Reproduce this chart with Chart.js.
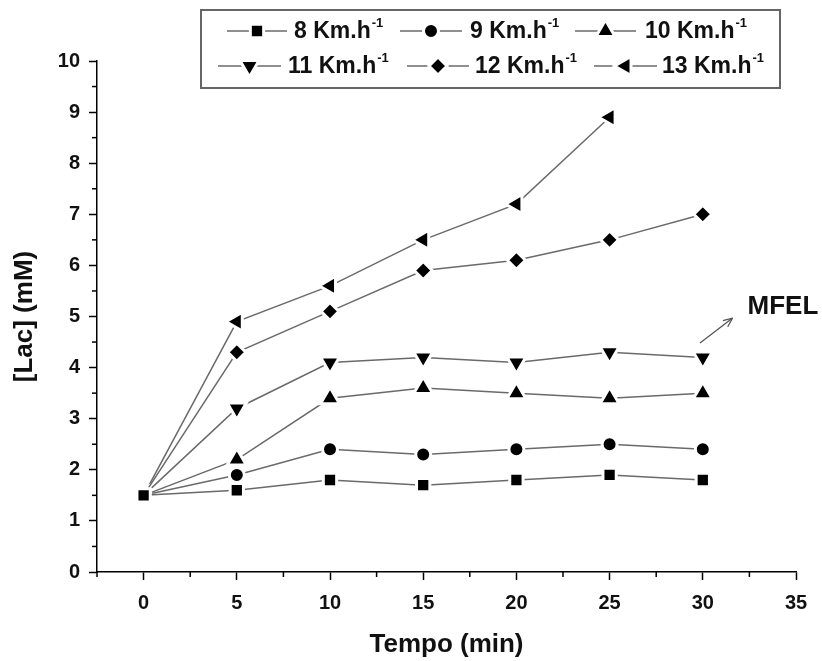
<!DOCTYPE html>
<html><head><meta charset="utf-8">
<script src="https://cdn.jsdelivr.net/npm/chart.js@4/dist/chart.umd.min.js"></script>
<style>html,body{margin:0;padding:0;background:#fff;}#wrap{width:822px;height:661px;position:relative;}</style>
</head><body><div id="wrap"><canvas id="c" width="822" height="661"></canvas></div>
<script>
// ---- data ----
const times = [0, 5, 10, 15, 20, 25, 30];
const speedLabels = ['8 Km.h', '9 Km.h', '10 Km.h', '11 Km.h', '12 Km.h', '13 Km.h'];
const lac8  = [1.5, 1.6, 1.8, 1.7, 1.8, 1.9, 1.8];
const lac9  = [1.5, 1.9, 2.4, 2.3, 2.4, 2.5, 2.4];
const lac10 = [1.5, 2.2, 3.4, 3.6, 3.5, 3.4, 3.5];
const lac11 = [1.5, 3.2, 4.1, 4.2, 4.1, 4.3, 4.2];
const lac12 = [1.5, 4.3, 5.1, 5.9, 6.1, 6.5, 7.0];
const lac13 = [1.5, 4.9, 5.6, 6.5, 7.2, 8.9];
const xTicks = [0, 5, 10, 15, 20, 25, 30, 35];
const yTicks = [0, 1, 2, 3, 4, 5, 6, 7, 8, 9, 10];
const xMinorTicks = [-2.5, 2.5, 7.5, 12.5, 17.5, 22.5, 27.5, 32.5];
const yMinorTicks = [0.5, 1.5, 2.5, 3.5, 4.5, 5.5, 6.5, 7.5, 8.5, 9.5];
const annotationText = 'MFEL';

// ---- styles ----
const FONT = "'Liberation Sans', Arial, sans-serif";
const markers = [
  {pointStyle: 'rect', radius: 9.4, rotation: 0},
  {pointStyle: 'circle', radius: 7.5, rotation: 0},
  {pointStyle: 'triangle', radius: 11, rotation: 0},
  {pointStyle: 'triangle', radius: 11, rotation: 180},
  {pointStyle: 'rectRot', radius: 9, rotation: 0},
  {pointStyle: 'triangle', radius: 11, rotation: 270}
];
const seriesValues = [lac8, lac9, lac10, lac11, lac12, lac13];
const LINE_COLOR = '#6a6a6a';

const datasets = seriesValues.map((vals, i) => ({
  label: speedLabels[i] + '-1',
  data: vals.map((v, k) => ({x: times[k], y: v})),
  borderColor: LINE_COLOR,
  borderWidth: 1.5,
  pointStyle: markers[i].pointStyle,
  pointRadius: markers[i].radius,
  pointRotation: markers[i].rotation,
  pointBackgroundColor: '#000',
  pointBorderColor: '#fff',
  pointBorderWidth: 3,
  pointHoverRadius: markers[i].radius,
  tension: 0,
  fill: false
}));

// legend layout: [lineStart, lineEnd, textX, rowY]
const legendLayout = [
  [227, 287, 294, 31], [400, 462, 470, 31], [575, 636, 645, 31],
  [218, 281, 288, 66], [407, 469, 475, 66], [594, 657, 662, 66]
];

const legendPlugin = {
  id: 'boxLegend',
  afterDraw(chart) {
    const ctx = chart.ctx;
    ctx.save();
    ctx.strokeStyle = '#666';
    ctx.lineWidth = 2;
    ctx.strokeRect(201, 10, 579, 78);
    legendLayout.forEach((L, i) => {
      const [x0, x1, tx, y] = L;
      ctx.strokeStyle = LINE_COLOR;
      ctx.lineWidth = 1.5;
      ctx.beginPath(); ctx.moveTo(x0, y); ctx.lineTo(x1, y); ctx.stroke();
      ctx.fillStyle = '#000';
      ctx.strokeStyle = '#fff';
      ctx.lineWidth = 3;
      Chart.helpers.drawPoint(ctx, {pointStyle: markers[i].pointStyle, radius: markers[i].radius, rotation: markers[i].rotation, borderWidth: 3}, (x0 + x1) / 2, y);
      ctx.fillStyle = '#111';
      ctx.textBaseline = 'middle';
      ctx.textAlign = 'left';
      ctx.font = 'bold 23px ' + FONT;
      ctx.fillText(speedLabels[i], tx, y + 1);
      const w = ctx.measureText(speedLabels[i]).width;
      ctx.font = 'bold 13px ' + FONT;
      ctx.fillText('-1', tx + w + 1, y - 8);
    });
    ctx.restore();
  }
};

const extrasPlugin = {
  id: 'extras',
  afterDraw(chart) {
    const ctx = chart.ctx, xs = chart.scales.x, ys = chart.scales.y;
    ctx.save();
    ctx.strokeStyle = '#000';
    ctx.lineWidth = 1.5;
    const y0 = ys.bottom;
    xMinorTicks.forEach(v => {
      const px = xs.getPixelForValue(v);
      ctx.beginPath(); ctx.moveTo(px, y0); ctx.lineTo(px, y0 + 5); ctx.stroke();
    });
    const x0 = xs.left;
    yMinorTicks.forEach(v => {
      const py = ys.getPixelForValue(v);
      ctx.beginPath(); ctx.moveTo(x0, py); ctx.lineTo(x0 - 5, py); ctx.stroke();
    });
    // annotation arrow + text
    const ax0 = xs.getPixelForValue(29.85), ay0 = ys.getPixelForValue(4.48);
    const ax1 = xs.getPixelForValue(31.6), ay1 = ys.getPixelForValue(4.97);
    ctx.strokeStyle = '#555';
    ctx.lineWidth = 1.3;
    ctx.beginPath(); ctx.moveTo(ax0, ay0); ctx.lineTo(ax1, ay1); ctx.stroke();
    const ang = Math.atan2(ay1 - ay0, ax1 - ax0);
    ctx.beginPath();
    ctx.moveTo(ax1, ay1);
    ctx.lineTo(ax1 - 10 * Math.cos(ang - 0.4), ay1 - 10 * Math.sin(ang - 0.4));
    ctx.moveTo(ax1, ay1);
    ctx.lineTo(ax1 - 10 * Math.cos(ang + 0.4), ay1 - 10 * Math.sin(ang + 0.4));
    ctx.stroke();
    ctx.fillStyle = '#111';
    ctx.font = 'bold 26px ' + FONT;
    ctx.textAlign = 'left';
    ctx.textBaseline = 'middle';
    ctx.fillText(annotationText, xs.getPixelForValue(32.4), ys.getPixelForValue(5.19));
    ctx.restore();
  }
};

new Chart(document.getElementById('c'), {
  type: 'line',
  data: {datasets},
  plugins: [legendPlugin, extrasPlugin],
  options: {
    responsive: false,
    animation: false,
    layout: {padding: {top: 61, right: 26, left: 0, bottom: 0}},
    plugins: {legend: {display: false}, tooltip: {enabled: false}},
    scales: {
      x: {
        type: 'linear',
        min: -2.5, max: 35,
        afterBuildTicks: s => { s.ticks = xTicks.map(v => ({value: v})); },
        afterFit: s => { s.height = 89; },
        grid: {drawOnChartArea: false, drawTicks: true, tickLength: 8, tickWidth: 1.5, tickColor: '#000'},
        border: {display: true, color: '#000', width: 1.5},
        ticks: {color: '#111', font: {family: FONT, size: 20, weight: 'bold'}, padding: 11, maxRotation: 0},
        title: {display: true, text: 'Tempo (min)', color: '#111', font: {family: FONT, size: 26, weight: 'bold'}, padding: {top: 0, bottom: 1}}
      },
      y: {
        type: 'linear',
        min: 0, max: 10,
        afterBuildTicks: s => { s.ticks = yTicks.map(v => ({value: v})); },
        afterFit: s => { s.width = 97; },
        grid: {drawOnChartArea: false, drawTicks: true, tickLength: 8, tickWidth: 1.5, tickColor: '#000'},
        border: {display: true, color: '#000', width: 1.5},
        ticks: {color: '#111', font: {family: FONT, size: 20, weight: 'bold'}, padding: 9},
        title: {display: true, text: '[Lac] (mM)', color: '#111', font: {family: FONT, size: 26, weight: 'bold'}, padding: {top: 9, bottom: 0}}
      }
    }
  }
});
</script></body></html>
